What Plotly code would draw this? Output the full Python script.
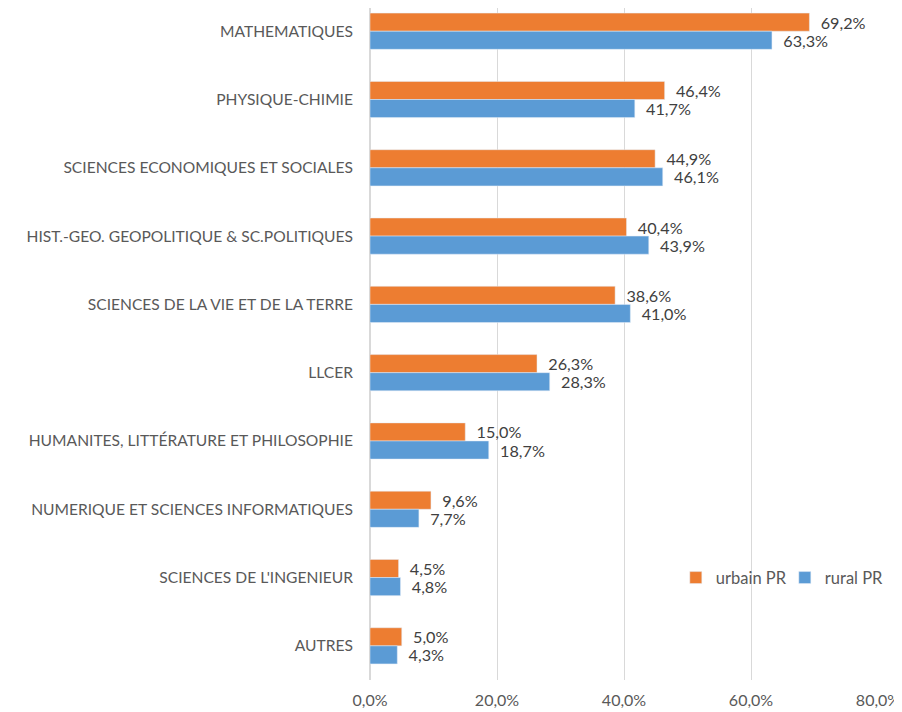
import plotly.graph_objects as go

categories = ["MATHEMATIQUES", "PHYSIQUE-CHIMIE", "SCIENCES ECONOMIQUES ET SOCIALES",
              "HIST.-GEO. GEOPOLITIQUE & SC.POLITIQUES", "SCIENCES DE LA VIE ET DE LA TERRE",
              "LLCER", "HUMANITES, LITTÉRATURE ET PHILOSOPHIE",
              "NUMERIQUE ET SCIENCES INFORMATIQUES", "SCIENCES DE L'INGENIEUR", "AUTRES"]
urbain_pr = [69.2, 46.4, 44.9, 40.4, 38.6, 26.3, 15.0, 9.6, 4.5, 5.0]
rural_pr = [63.3, 41.7, 46.1, 43.9, 41.0, 28.3, 18.7, 7.7, 4.8, 4.3]
x_ticks = [0, 20, 40, 60, 80]

FONT = "Lato, Liberation Sans, sans-serif"
FS = 15.6
FS_NUM = 16.2

fig = go.Figure()
fig.add_trace(go.Bar(
    y=categories, x=[v / 100 for v in urbain_pr], orientation="h", name="urbain PR",
    marker=dict(color="#ED7D31"), texttemplate="  %{x:.1%}", textposition="outside",
    constraintext="none",
    textfont=dict(size=FS_NUM, color="#404040", family=FONT), cliponaxis=False))
fig.add_trace(go.Bar(
    y=categories, x=[v / 100 for v in rural_pr], orientation="h", name="rural PR",
    marker=dict(color="#5B9BD5"), texttemplate="  %{x:.1%}", textposition="outside",
    constraintext="none",
    textfont=dict(size=FS_NUM, color="#404040", family=FONT), cliponaxis=False))

fig.update_layout(
    width=894, height=704,
    margin=dict(l=362, r=24, t=0, b=32, autoexpand=False),
    barmode="group", bargap=0.47, bargroupgap=0,
    separators=", ",
    plot_bgcolor="white", paper_bgcolor="white",
    font=dict(family=FONT, size=FS, color="#595959"),
    uniformtext=dict(mode=False),
    legend=dict(orientation="h", x=0.602, y=0.152, xanchor="left", yanchor="middle",
                font=dict(size=16.5, color="#595959"), bgcolor="rgba(0,0,0,0)",
                itemwidth=30, entrywidth=64, tracegroupgap=0),
    xaxis=dict(range=[0, 0.8], tickvals=[t / 100 for t in x_ticks], tickformat=".1%",
               showgrid=True, gridcolor="#D9D9D9", gridwidth=1, zeroline=True,
               zerolinecolor="#D9D9D9", showline=False, ticks="", automargin=False,
               ticklabelstandoff=9, ticklabeloverflow="allow",
               tickfont=dict(size=16, color="#595959"), fixedrange=True),
    yaxis=dict(type="category", categoryorder="array", categoryarray=categories,
               range=[9.5, -0.34], showgrid=False, ticks="", ticklen=0, automargin=False,
               ticklabelstandoff=16,
               tickfont=dict(size=FS, color="#595959")),
    showlegend=True,
)

fig.write_html("out.html")
